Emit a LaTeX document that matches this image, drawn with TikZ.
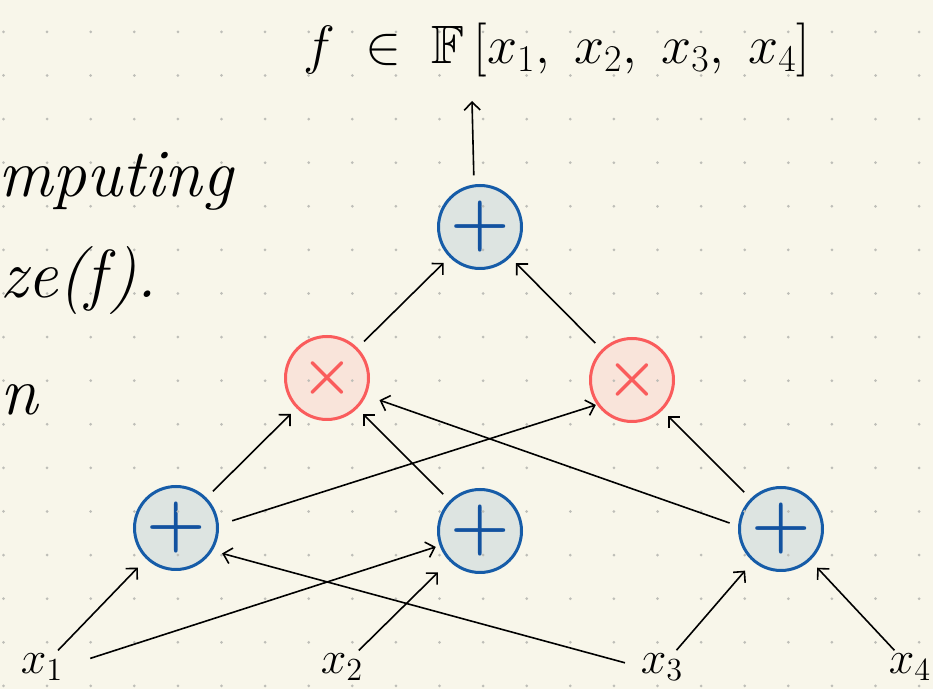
\RequirePackage{fix-cm}
\documentclass[tikz,border=0pt]{standalone}
\usepackage{amsmath,amssymb}
\usepackage{tikz}
\usetikzlibrary{arrows.meta}
\definecolor{paper}{RGB}{248,246,234}
\definecolor{griddot}{RGB}{190,190,184}
\definecolor{addline}{RGB}{22,92,168}
\definecolor{addfill}{RGB}{221,228,225}
\definecolor{addsign}{RGB}{18,82,160}
\definecolor{mulline}{RGB}{250,92,92}
\definecolor{mulfill}{RGB}{249,228,218}

\begin{document}
\begin{tikzpicture}[x=0.5pt, y=-0.5pt,
  gate/.style={circle, line width=1.5pt, minimum size=41.5pt, inner sep=0pt,
               font=\fontsize{34}{34}\selectfont\boldmath},
  addgate/.style={gate, draw=addline, fill=addfill, text=addsign},
  mulgate/.style={gate, draw=mulline, fill=mulfill, text=mulline,
                  font=\fontsize{29}{29}\selectfont\boldmath},
  var/.style={inner sep=0pt, font=\fontsize{23}{23}\selectfont},
  hand/.style={anchor=base west, inner sep=0pt, font=\fontsize{34}{34}\selectfont\itshape},
  wire/.style={-{Straight Barb[length=4pt,width=8pt]}, line width=0.8pt,
               shorten <=4.5pt, shorten >=4pt}
]
\useasboundingbox[fill=paper] (0,0) rectangle (933,689);

\node[addgate] (plusTop) at (480,227) {$+$};
\node[mulgate] (timesL) at (327,378) {$\times$};
\node[mulgate] (timesR) at (632,380) {$\times$};
\node[addgate] (plusL) at (176,528) {$+$};
\node[addgate] (plusM) at (480,531) {$+$};
\node[addgate] (plusR) at (781,529) {$+$};

\foreach \i in {0,...,21}
  \foreach \j in {0,...,15}
    \fill[griddot] (3.5+43.6*\i, 31.9+43.6*\j) circle (0.75pt);

\node[inner sep=0pt, font=\fontsize{27}{27}\selectfont] (poly) at (557,50)
  {$f \;\in\; \mathbb{F}\,[x_1,\; x_2,\; x_3,\; x_4]$};
\node[hand] (noteA) at (-2,197) {mputing};
\node[hand] (noteB) at (0,298) {ze(f).};
\node[hand] (noteC) at (0,415) {n};

\node[var] (x1) at (42,667) {$x_1$};
\node[var] (x2) at (342,667) {$x_2$};
\node[var] (x3) at (662,667) {$x_3$};
\node[var] (x4) at (910,667) {$x_4$};
\coordinate (out) at (472,101);

\draw[wire, shorten >=0pt] (plusTop.98) -- (out);
\draw[wire] (timesL) -- (plusTop);
\draw[wire] (timesR) -- (plusTop);
\draw[wire] (plusL) -- (timesL);
\draw[wire, shorten <=7pt, shorten >=0.5pt] (plusL.4) -- (timesR.215);
\draw[wire] (plusM) -- (timesL);
\draw[wire, shorten >=7pt] (plusR.176) -- (timesL.336);
\draw[wire] (plusR) -- (timesR);

\draw[wire, shorten <=2pt, shorten >=6pt] (x1) -- (plusL);
\draw[wire, shorten <=14pt, shorten >=2pt] (x1.east) -- (plusM.200);
\draw[wire, shorten <=2pt, shorten >=8pt] (x2) -- (plusM);
\draw[wire, shorten <=8pt, shorten >=5pt] (x3.west) -- (plusL.328);
\draw[wire, shorten <=2pt, shorten >=6pt] (x3) -- (plusR);
\draw[wire, shorten <=2pt, shorten >=5pt] (x4) -- (plusR);
\end{tikzpicture}
\end{document}
